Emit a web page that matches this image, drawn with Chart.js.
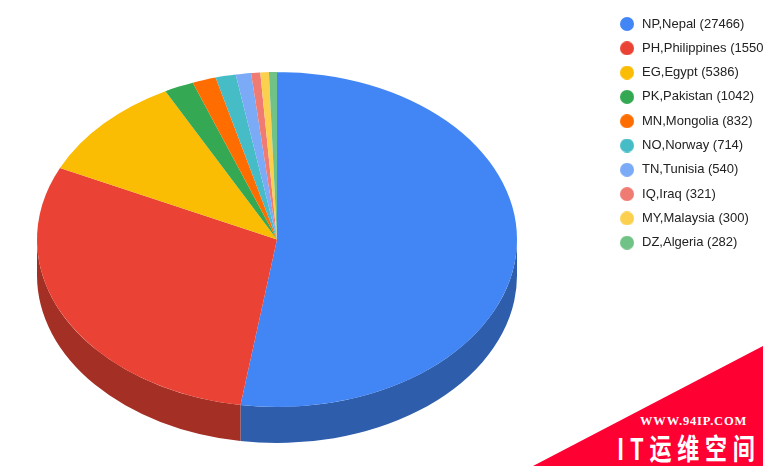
<!DOCTYPE html>
<html>
<head>
<meta charset="utf-8">
<title>Pie</title>
<script src="https://cdn.jsdelivr.net/npm/chart.js@4/dist/chart.umd.min.js"></script>
<style>
  html, body { margin: 0; padding: 0; background: #fff; overflow: hidden; width: 763px; height: 466px; }
  #wrap { position: relative; width: 763px; height: 466px; overflow: hidden; }
  canvas { position: absolute; left: 0; top: 0; }
  #badge { position: absolute; left: 0; top: 0; width: 763px; height: 466px; background: #ff0033; clip-path: polygon(533px 466px, 763px 346px, 763px 466px); }
  #badge span { position: absolute; color: #fff; font-weight: bold; white-space: nowrap; }
  #site { left: 640px; top: 414px; font: bold 12.5px "Liberation Serif", serif; letter-spacing: 0.85px; }
  #brand { left: 617px; top: 430px; font: bold 29px "Noto Sans CJK SC", sans-serif; letter-spacing: 7.5px; line-height: 34px; transform: scaleX(0.76); transform-origin: left top; }
</style>
</head>
<body>
<div id="wrap">
  <canvas id="chart" width="785" height="466"></canvas>
  <div id="badge"><span id="site">WWW.94IP.COM</span><span id="brand">IT运维空间</span></div>
</div>
<script>
const countries = ['NP,Nepal', 'PH,Philippines', 'EG,Egypt', 'PK,Pakistan', 'MN,Mongolia', 'NO,Norway', 'TN,Tunisia', 'IQ,Iraq', 'MY,Malaysia', 'DZ,Algeria'];
const counts = [27466, 15504, 5386, 1042, 832, 714, 540, 321, 300, 282];
const colors = ['#4285f4', '#ea4335', '#fbbc04', '#34a853', '#ff6d01', '#46bdc6', '#7baaf7', '#f07b72', '#fcd04f', '#71c287'];

// where the tilted pie sits on the page
const PIE_X = 277;
const PIE_Y = 239.5;
const TILT = 0.698;
const DEPTH = 36;

function darken(hex) {
  const n = parseInt(hex.slice(1), 16);
  const c = s => Math.round(((n >> s) & 255) * 0.7);
  return `rgb(${c(16)},${c(8)},${c(0)})`;
}

// legend dot as a sprite, so the gap to the text can differ from the dot size
function legendDot(color) {
  const dot = document.createElement('canvas');
  dot.width = 14;
  dot.height = 14;
  const g = dot.getContext('2d');
  g.fillStyle = color;
  g.arc(7, 7, 7, 0, Math.PI * 2);
  g.fill();
  return dot;
}

const tiltPlugin = {
  id: 'tilt',
  beforeDatasetDraw(chart, args) {
    const ctx = chart.ctx;
    const arcs = args.meta.data;
    // side wall: only the part of each slice on the front half of the rim
    arcs.forEach((arc, i) => {
      const from = Math.max(arc.startAngle, 0);
      const to = Math.min(arc.endAngle, Math.PI);
      if (from >= to) return;
      const rx = arc.outerRadius;
      const ry = rx * TILT;
      ctx.beginPath();
      ctx.ellipse(PIE_X, PIE_Y, rx, ry, 0, from, to);
      ctx.ellipse(PIE_X, PIE_Y + DEPTH, rx, ry, 0, to, from, true);
      ctx.closePath();
      ctx.fillStyle = darken(colors[i]);
      ctx.fill();
    });
    ctx.save();
    ctx.translate(PIE_X, PIE_Y);
    ctx.scale(1, TILT);
    ctx.translate(-arcs[0].x, -arcs[0].y);
  },
  afterDatasetDraw(chart) {
    chart.ctx.restore();
  }
};

new Chart(document.getElementById('chart'), {
  type: 'pie',
  data: {
    labels: countries.map((name, i) => `${name} (${counts[i]})`),
    datasets: [{ data: counts, backgroundColor: colors, borderWidth: 0, clip: false }]
  },
  options: {
    responsive: false,
    animation: false,
    radius: 240,
    layout: { padding: { top: 6.2 } },
    plugins: {
      tooltip: { enabled: false },
      legend: {
        position: 'right',
        align: 'start',
        labels: {
          color: '#222222',
          font: { family: '"Liberation Sans", Arial, sans-serif', size: 13 },
          usePointStyle: true,
          pointStyleWidth: 17,
          padding: 11.3,
          generateLabels: chart => Chart.overrides.doughnut.plugins.legend.labels.generateLabels(chart)
            .map((item, i) => ({ ...item, pointStyle: legendDot(colors[i]) }))
        }
      }
    }
  },
  plugins: [tiltPlugin]
});
</script>
</body>
</html>
